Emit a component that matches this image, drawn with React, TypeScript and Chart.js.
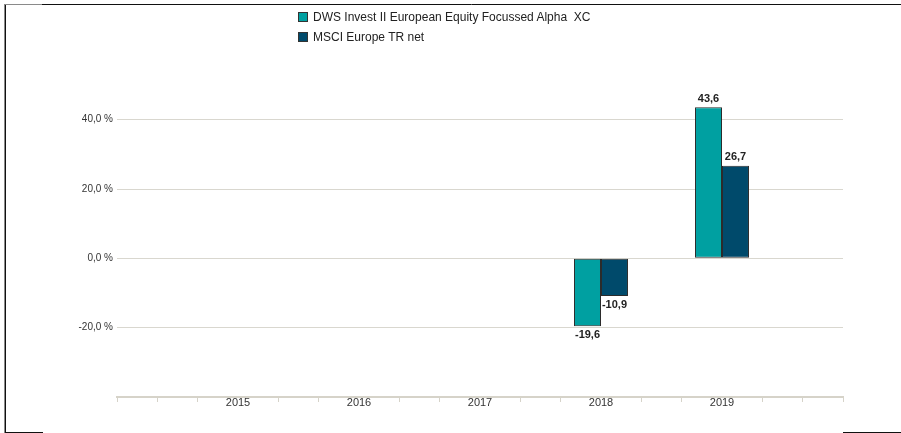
import React, { useEffect, useRef } from "react";
import { Chart, registerables } from "chart.js";

Chart.register(...registerables);

const years = ["", "2015", "2016", "2017", "2018", "2019", ""];
const fundValues: (number | null)[] = [null, null, null, null, -19.6, 43.6, null];
const benchmarkValues: (number | null)[] = [null, null, null, null, -10.9, 26.7, null];
const yTickValues = [-20, 0, 20, 40];
const seriesNames = ["DWS Invest II European Equity Focussed Alpha  XC", "MSCI Europe TR net"];
const seriesColors = ["#00a0a1", "#004a6b"];

const FONT = "'Liberation Sans', Arial, Helvetica, sans-serif";
const AXIS_COLOR = "#d6d3c9";
const GRID_COLOR = "#d9d7cf";
// three minor ticks per year on the x axis
const MINOR_PER_CATEGORY = 3;

const fmt = (v: number) => v.toFixed(1).replace(".", ",");

const valueLabels = {
  id: "valueLabels",
  afterDatasetsDraw(chart: any) {
    const ctx = chart.ctx;
    ctx.save();
    ctx.font = `bold 11px ${FONT}`;
    ctx.fillStyle = "#222";
    ctx.textAlign = "center";
    chart.data.datasets.forEach((ds: any, di: number) => {
      const meta = chart.getDatasetMeta(di);
      meta.data.forEach((el: any, i: number) => {
        const v = ds.data[i];
        if (v === null || v === undefined) return;
        if (v >= 0) {
          ctx.textBaseline = "bottom";
          ctx.fillText(fmt(v), el.x, el.y - 3);
        } else {
          ctx.textBaseline = "top";
          ctx.fillText(fmt(v), el.x, el.y + 3);
        }
      });
    });
    ctx.restore();
  },
};

const frame = {
  id: "frame",
  afterDraw(chart: any) {
    const ctx = chart.ctx;
    ctx.save();
    ctx.lineWidth = 1;
    ctx.strokeStyle = "#8a8a8a";
    ctx.beginPath();
    ctx.moveTo(4.5, 4);
    ctx.lineTo(4.5, 433);
    ctx.moveTo(5, 4.5);
    ctx.lineTo(42, 4.5);
    ctx.stroke();
    ctx.strokeStyle = "#111";
    ctx.beginPath();
    ctx.moveTo(5.5, 5);
    ctx.lineTo(5.5, 432);
    ctx.moveTo(42, 4.5);
    ctx.lineTo(901, 4.5);
    ctx.moveTo(5, 432.5);
    ctx.lineTo(43, 432.5);
    ctx.moveTo(843, 432.5);
    ctx.lineTo(901, 432.5);
    ctx.stroke();
    ctx.restore();
  },
};

export default function App() {
  const ref = useRef<HTMLCanvasElement>(null);

  useEffect(() => {
    if (!ref.current) return;
    const barCommon = {
      borderColor: "#2b2b2b",
      borderWidth: 1,
      borderSkipped: false,
      // ruler min is the minor-tick spacing (1/3 of a category)
      categoryPercentage: 0.446 * MINOR_PER_CATEGORY,
      barPercentage: 1,
    };
    const chart = new Chart(ref.current, {
      type: "bar",
      data: {
        labels: years,
        datasets: [
          { label: seriesNames[0], data: fundValues, backgroundColor: seriesColors[0], ...barCommon },
          { label: seriesNames[1], data: benchmarkValues, backgroundColor: seriesColors[1], ...barCommon },
        ],
      },
      options: {
        responsive: false,
        animation: false,
        layout: { padding: { left: 0, top: 85, right: 58, bottom: 0 } },
        plugins: {
          legend: { display: false },
          tooltip: { enabled: false },
        },
        scales: {
          x: {
            type: "category",
            offset: false,
            afterBuildTicks: (scale: any) => {
              const t = [];
              for (let i = 0; i <= (years.length - 1) * MINOR_PER_CATEGORY; i++)
                t.push({ value: i / MINOR_PER_CATEGORY });
              scale.ticks = t;
            },
            afterFit: (scale: any) => {
              scale.height = 36;
            },
            ticks: {
              autoSkip: false,
              maxRotation: 0,
              padding: -6,
              color: "#333",
              font: { family: FONT, size: 11 },
              callback: (v: any) => (Number.isInteger(v) ? years[v] : ""),
            },
            grid: {
              offset: false,
              drawOnChartArea: false,
              drawTicks: true,
              tickLength: 5,
              lineWidth: 1,
              color: (c: any) =>
                c.tick && Number.isInteger(c.tick.value) && years[c.tick.value]
                  ? "rgba(0,0,0,0)"
                  : AXIS_COLOR,
            },
            border: { display: true, color: AXIS_COLOR, width: 2 },
          },
          y: {
            min: -40,
            max: 50,
            afterBuildTicks: (scale: any) => {
              scale.ticks = yTickValues.map((v) => ({ value: v }));
            },
            afterFit: (scale: any) => {
              scale.width = 117;
            },
            ticks: {
              padding: 4,
              color: "#333",
              font: { family: FONT, size: 10 },
              callback: (v: any) => fmt(Number(v)) + " %",
            },
            grid: {
              drawTicks: false,
              color: GRID_COLOR,
              lineWidth: 1,
            },
            border: { display: false },
          },
        },
      },
      plugins: [valueLabels, frame],
    });
    return () => chart.destroy();
  }, []);

  const legendItem = (i: number) => (
    <div key={i} style={{ display: "flex", alignItems: "center", height: 20 }}>
      <span
        style={{
          display: "inline-block",
          width: 8,
          height: 8,
          background: seriesColors[i],
          border: "1px solid #333",
          marginRight: 5,
        }}
      />
      <span style={{ fontFamily: FONT, fontSize: 12, color: "#222", whiteSpace: "pre" }}>
        {seriesNames[i]}
      </span>
    </div>
  );

  return (
    <div style={{ position: "fixed", left: 0, top: 0, width: 901, height: 433, background: "#fff" }}>
      <canvas ref={ref} width={901} height={433} style={{ display: "block" }} />
      <div style={{ position: "absolute", left: 298, top: 7 }}>
        {seriesNames.map((_, i) => legendItem(i))}
      </div>
    </div>
  );
}
